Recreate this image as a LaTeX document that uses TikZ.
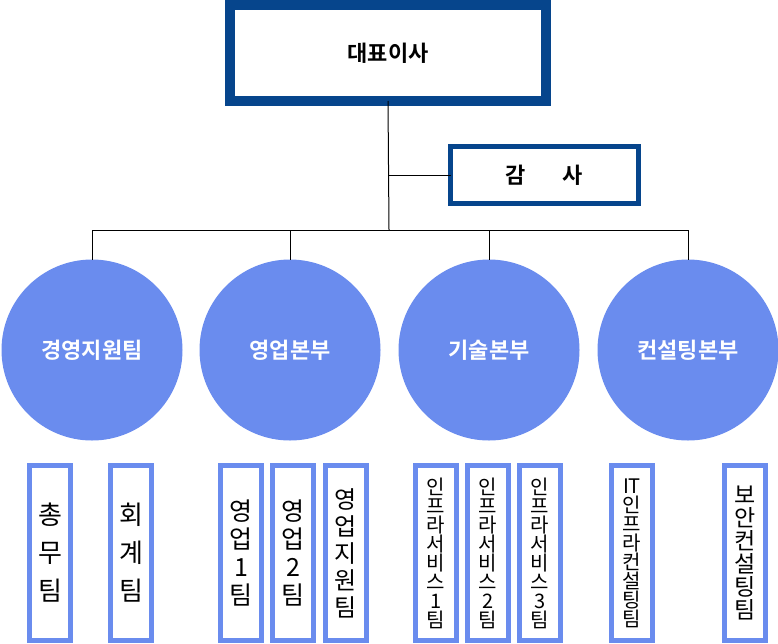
\documentclass[tikz,border=0pt]{standalone}
\usepackage{fontspec}
\setmainfont{Noto Sans CJK KR}[BoldFont={Noto Sans CJK KR Bold}]
\usetikzlibrary{positioning}
\definecolor{ceoblue}{RGB}{6,69,140}
\definecolor{deptblue}{RGB}{106,140,238}
\newcommand{\teamsize}[2]{\fontsize{#1}{#2}\selectfont\lineskiplimit=-100pt\relax}
\tikzset{ceobox/.style={rectangle,draw=ceoblue,line width=10pt,outer sep=0pt,minimum width=316pt,minimum height=96pt,font=\fontsize{22}{26}\selectfont\bfseries},
auditbox/.style={rectangle,draw=ceoblue,line width=5pt,outer sep=0pt,minimum width=188pt,minimum height=57pt,font=\fontsize{22}{26}\selectfont\bfseries},
dept/.style={circle,fill=deptblue,inner sep=0pt,outer sep=0pt,minimum size=181pt,text=white,font=\fontsize{22}{26}\selectfont\bfseries},
team/.style={rectangle,draw=deptblue,line width=5pt,outer sep=0pt,inner sep=0pt,minimum width=41pt,minimum height=175pt,align=center},
line/.style={draw=black,line width=1pt}}

\begin{document}
\begin{tikzpicture}[x=1pt,y=-1pt]
\useasboundingbox (0,0) rectangle (778,643);
\node[ceobox] (ceo) at (388,53) {대표이사};
\node[auditbox] (audit) at (544.5,175) {감\hspace{37pt}사};
\coordinate (bus) at (389,230);
\node[dept] (d1) at (92,350) {경영지원팀};
\node[dept] (d2) at (290,350) {영업본부};
\node[dept] (d3) at (489,350) {기술본부};
\node[dept] (d4) at (688,350) {컨설팅본부};
% teams
\node[team,font=\teamsize{26}{38}] (t1) at (50,553) {총\\무\\팀};
\node[team,font=\teamsize{26}{38}] (t2) at (131,553) {회\\계\\팀};
\node[team,font=\teamsize{25}{28}] (t3) at (241,553) {영\\업\\1\\팀};
\node[team,font=\teamsize{25}{28}] (t4) at (293,553) {영\\업\\2\\팀};
\node[team,font=\teamsize{24}{27}] (t5) at (345.5,553) {영\\업\\지\\원\\팀};
\node[team,font=\teamsize{20}{19}] (t6) at (436,553) {인\\프\\라\\서\\비\\스\\1\\팀};
\node[team,font=\teamsize{20}{19}] (t7) at (488,553) {인\\프\\라\\서\\비\\스\\2\\팀};
\node[team,font=\teamsize{20}{19}] (t8) at (540,553) {인\\프\\라\\서\\비\\스\\3\\팀};
\node[team,font=\teamsize{20}{19}] (t9) at (632,553) {IT\\인\\프\\라\\컨\\설\\팅\\팀};
\node[team,font=\teamsize{23}{23}] (t10) at (745,553) {보\\안\\컨\\설\\팅\\팀};
% connectors
\draw[line] (ceo.south) -- (bus);
\draw[line] (audit.west) -- (audit.west -| ceo.south);
\draw[line] (d1.north |- bus) -- (d4.north |- bus);
\foreach \d in {d1,d2,d3,d4}
  \draw[line] (\d.north) -- (\d.north |- bus);
\end{tikzpicture}
\end{document}
